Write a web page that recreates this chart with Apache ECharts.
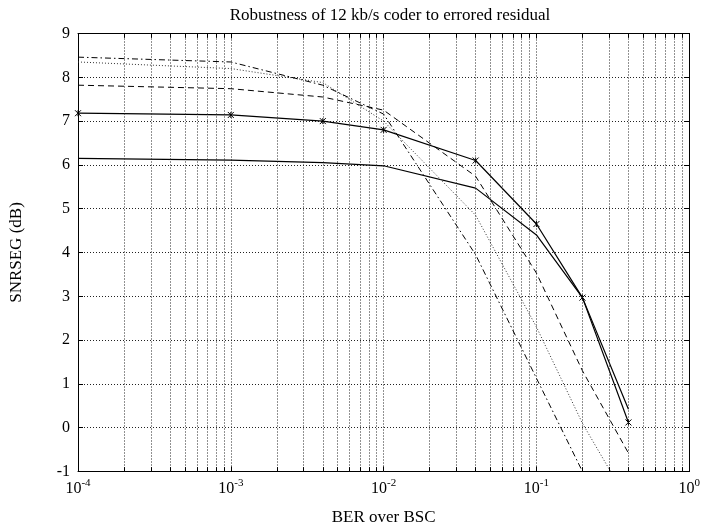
<!DOCTYPE html>
<html>
<head>
<meta charset="utf-8">
<script src="https://cdn.jsdelivr.net/npm/echarts@6/dist/echarts.min.js"></script>
<style>
html,body{margin:0;padding:0;background:#fff;}
#chart{width:703px;height:532px;}
</style>
</head>
<body>
<div id="chart"></div>
<script>
// BER values (x) at which the curves are sampled
const ber = [1e-4, 1e-3, 4e-3, 1e-2, 4e-2, 1e-1, 2e-1, 4e-1];
// SNRSEG (dB) for each curve
const solidMarked = [7.18, 7.14, 7.00, 6.80, 6.10, 4.65, 2.97, 0.12];
const solidPlain  = [6.15, 6.11, 6.05, 5.98, 5.47, 4.40, 2.97, 0.42];
const dashed      = [7.82, 7.74, 7.55, 7.25, 5.74, 3.53, 1.30, -0.58];
const dotted      = [8.35, 8.20, 7.88, 7.00, 4.85, 2.30, 0.10, -1.70];
const dashDot     = [8.46, 8.35, 7.82, 7.16, 3.95, 1.13, -1.00, null];
// axis ticks
const yTicks = [-1, 0, 1, 2, 3, 4, 5, 6, 7, 8, 9];
const decades = [-4, -3, -2, -1, 0];
const minorMult = [2, 3, 4, 5, 6, 7, 8, 9];

const title = 'Robustness of 12 kb/s coder to errored residual';
const xName = 'BER over BSC';
const yName = 'SNRSEG (dB)';

const FONT = '"Liberation Serif", "DejaVu Serif", serif';

function pairs(ys) { return ber.map((x, i) => [x, ys[i]]); }

const yMin = yTicks[0], yMax = yTicks[yTicks.length - 1];
const minorVals = [];
decades.slice(0, -1).forEach(d => minorMult.forEach(m => minorVals.push(m * Math.pow(10, d))));

const gridLineStyle = { color: '#222', width: 1, type: [1, 2] };
const minorGridLines = minorVals.map(v => [{ coord: [v, yMin] }, { coord: [v, yMax] }]);
const tickSeg = [];
minorVals.forEach(v => {
  tickSeg.push([{ coord: [v, yMin] }, { coord: [v, yMin + 0.1] }]);
  tickSeg.push([{ coord: [v, yMax] }, { coord: [v, yMax - 0.1] }]);
});

const xSymbol = 'path://M0,0L10,10M10,0L0,10M5,0L5,10';

const chart = echarts.init(document.getElementById('chart'), null, { renderer: 'canvas' });
const axisLineBase = { show: true, onZero: false, lineStyle: { color: '#000', width: 1 } };
const option = {
  animation: false,
  backgroundColor: '#fff',
  title: {
    text: title, left: 385, top: 2, textAlign: 'center',
    textStyle: { fontFamily: FONT, fontSize: 17, fontWeight: 'normal', color: '#000' }
  },
  grid: { left: 78, right: 13, top: 33.5, bottom: 60.5, containLabel: false },
  xAxis: [{
    type: 'log', logBase: 10, min: 1e-4, max: 1,
    name: xName, nameLocation: 'middle', nameGap: 38,
    nameTextStyle: { fontFamily: FONT, fontSize: 17, color: '#000' },
    axisLine: axisLineBase,
    axisTick: { show: true, inside: true, length: 5, lineStyle: { color: '#000' } },
    splitLine: { show: true, lineStyle: gridLineStyle },
    axisLabel: {
      color: '#000', margin: 6,
      formatter: v => '{b|10}{s|' + Math.round(Math.log10(v)) + '}',
      rich: {
        b: { fontFamily: FONT, fontSize: 16, color: '#000', lineHeight: 19, verticalAlign: 'bottom' },
        s: { fontFamily: FONT, fontSize: 11, color: '#000', lineHeight: 19, verticalAlign: 'top', padding: [0, 0, 6, 0] }
      }
    }
  }, {
    type: 'log', logBase: 10, min: 1e-4, max: 1, position: 'top',
    axisLine: axisLineBase,
    axisTick: { show: true, inside: true, length: 5, lineStyle: { color: '#000' } },
    axisLabel: { show: false }, splitLine: { show: false }
  }],
  yAxis: [{
    type: 'value', min: yMin, max: yMax, interval: 1,
    name: yName, nameLocation: 'middle', nameGap: 53, nameRotate: 90,
    nameTextStyle: { fontFamily: FONT, fontSize: 17, color: '#000' },
    axisLine: axisLineBase,
    axisTick: { show: true, inside: true, length: 5, lineStyle: { color: '#000' } },
    splitLine: { show: true, lineStyle: gridLineStyle },
    axisLabel: { fontFamily: FONT, fontSize: 16, color: '#000', margin: 8,
      formatter: v => (yTicks.indexOf(v) >= 0 ? String(v) : '') }
  }, {
    type: 'value', min: yMin, max: yMax, interval: 1, position: 'right',
    axisLine: axisLineBase,
    axisTick: { show: true, inside: true, length: 5, lineStyle: { color: '#000' } },
    axisLabel: { show: false }, splitLine: { show: false }
  }],
  series: [
    {
      name: 'grid-minor', type: 'line', data: [], silent: true,
      markLine: {
        silent: true, symbol: 'none', label: { show: false },
        lineStyle: gridLineStyle, data: minorGridLines, animation: false
      }
    },
    {
      name: 'ticks-minor', type: 'line', data: [], silent: true,
      markLine: {
        silent: true, symbol: 'none', label: { show: false },
        lineStyle: { color: '#000', width: 1, type: 'solid' }, data: tickSeg, animation: false
      }
    },
    {
      name: 'marked', type: 'line', data: pairs(solidMarked),
      lineStyle: { color: '#000', width: 1.2, type: 'solid' },
      symbol: xSymbol, symbolSize: 6, showSymbol: true,
      itemStyle: { color: 'none', borderColor: '#000', borderWidth: 1 }
    },
    {
      name: 'plain', type: 'line', data: pairs(solidPlain),
      lineStyle: { color: '#000', width: 1.2, type: 'solid' }, symbol: 'none'
    },
    {
      name: 'dashed', type: 'line', data: pairs(dashed),
      lineStyle: { color: '#000', width: 1, type: [6, 4] }, symbol: 'none'
    },
    {
      name: 'dotted', type: 'line', data: pairs(dotted),
      lineStyle: { color: '#333', width: 1, type: [1, 2] }, symbol: 'none'
    },
    {
      name: 'dashdot', type: 'line', data: pairs(dashDot), connectNulls: false,
      lineStyle: { color: '#000', width: 1, type: [6, 3, 1.5, 3] }, symbol: 'none'
    }
  ]
};
chart.setOption(option);
</script>
</body>
</html>
